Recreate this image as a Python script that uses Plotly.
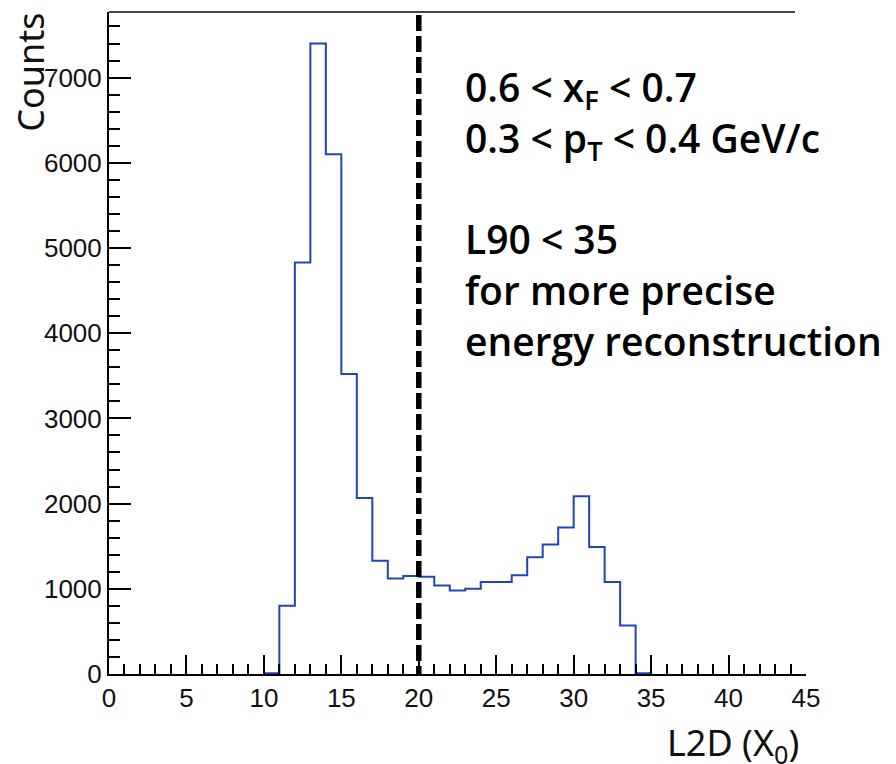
import plotly.graph_objects as go

# Histogram data (1-unit bins); left edges and counts
bin_left = [10, 11, 12, 13, 14, 15, 16, 17, 18, 19, 20, 21, 22, 23, 24, 25,
            26, 27, 28, 29, 30, 31, 32, 33, 34]
counts = [10, 800, 4830, 7400, 6100, 3520, 2065, 1330, 1120, 1150, 1140, 1040,
          980, 1000, 1080, 1080, 1160, 1370, 1520, 1720, 2085, 1490, 1080, 570, 10]
bin_width = 1
cut_value = 20
x_tick_vals = [0, 5, 10, 15, 20, 25, 30, 35, 40, 45]
y_tick_vals = [0, 1000, 2000, 3000, 4000, 5000, 6000, 7000]
x_range = [0, 45]
y_max = 7770

step_x = bin_left + [bin_left[-1] + bin_width]
step_y = counts + [counts[-1]]

fig = go.Figure()
fig.add_trace(go.Scatter(
    x=step_x, y=step_y, mode="lines", line_shape="hv",
    line=dict(color="#2244b8", width=2), showlegend=False, hoverinfo="skip"))

# dashed cut line
fig.add_trace(go.Scatter(
    x=[cut_value, cut_value], y=[-0.012 * y_max, 1.002 * y_max], mode="lines",
    line=dict(color="black", width=5.5, dash="16px,5px"),
    showlegend=False, hoverinfo="skip", cliponaxis=False))

tick_font = dict(family="Liberation Sans, Arial, sans-serif", size=26, color="#111")
fig.update_layout(
    width=896, height=764,
    margin=dict(l=109, r=90, t=12, b=90),
    plot_bgcolor="white", paper_bgcolor="white",
    xaxis=dict(range=x_range, tickvals=x_tick_vals, ticks="inside", ticklen=19,
               tickwidth=1.5, tickcolor="black", showline=True, linecolor="black",
               linewidth=2, showgrid=False, zeroline=False, tickfont=tick_font,
               minor=dict(dtick=1, ticks="inside", ticklen=10, tickwidth=1.5,
                          tickcolor="black", showgrid=False)),
    yaxis=dict(range=[0, y_max], tickvals=y_tick_vals, ticks="inside", ticklen=22,
               tickwidth=1.5, tickcolor="black", showline=True, linecolor="black",
               linewidth=2, showgrid=False, zeroline=False, tickfont=tick_font,
               minor=dict(dtick=200, ticks="inside", ticklen=11, tickwidth=1.5,
                          tickcolor="black", showgrid=False)),
)

# top frame line
fig.add_shape(type="line", xref="paper", yref="paper", x0=0, x1=(795 - 109) / 697,
              y0=1, y1=1, line=dict(color="#444", width=2))

title_font = dict(family="Noto Sans, sans-serif", size=36, color="#111")
fig.add_annotation(text="Counts", xref="paper", yref="paper", x=(31 - 109) / 697,
                   y=(674.3 - 72.5) / 662.6, xanchor="center", yanchor="middle",
                   textangle=-90, showarrow=False, font=title_font)
fig.add_annotation(text="L2D (X<sub>0</sub>)", xref="paper", yref="paper",
                   x=(801 - 109) / 697, y=(674.3 - 745) / 662.6, xanchor="right",
                   yanchor="middle", showarrow=False, font=title_font)

note_font = dict(family="Open Sans, Noto Sans, sans-serif", size=39, color="black",
                 weight=600)
fig.add_annotation(
    text=("0.6 &lt; x<sub>F</sub> &lt; 0.7<br>0.3 &lt; p<sub>T</sub> &lt; 0.4 GeV/c<br> <br>"
          "L90 &lt; 35<br>for more precise<br>energy reconstruction"),
    xref="paper", yref="paper", x=(463 - 109) / 697, y=(674.3 - 58) / 662.6,
    xanchor="left", yanchor="top", align="left", showarrow=False, font=note_font)

fig.write_html("out.html")
